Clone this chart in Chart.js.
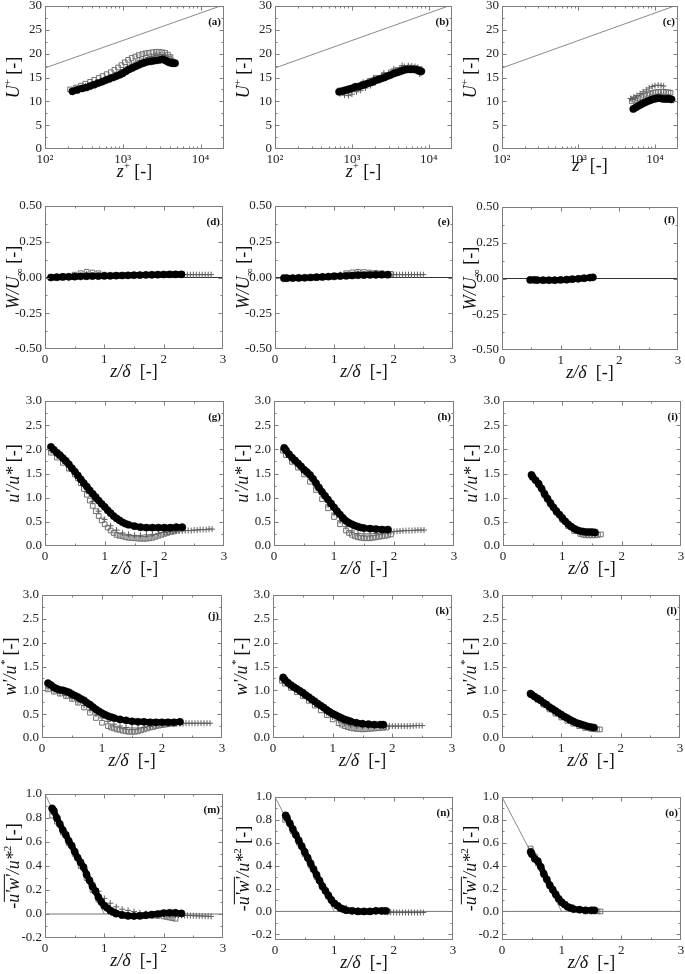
<!DOCTYPE html>
<html><head><meta charset="utf-8">
<script src="https://cdn.jsdelivr.net/npm/chart.js@4.4.1/dist/chart.umd.min.js"></script>
<style>
html,body{margin:0;padding:0;background:#fff;}
body{width:685px;height:974px;position:relative;overflow:hidden;}
canvas{position:absolute;}
.fp{position:absolute;left:-999px;top:0;font-family:"Liberation Serif";}
</style></head><body>
<div class="fp">0.5 <i>z/δ u'w'</i> <b>(a)</b></div>
<script>
// ---------- tick values / labels ----------
const uPlusTicks = [0,5,10,15,20,25,30];
const uPlusTickLabels = ['0','5','10','15','20','25','30'];
const zPlusTicks = [100,1000,10000];
const zPlusTickLabels = ['10²','10³','10⁴'];
const wMeanTicks = [-0.5,-0.25,0,0.25,0.5];
const wMeanTickLabels = ['-0.50','-0.25','0.00','0.25','0.50'];
const rmsTicks = [0,0.5,1,1.5,2,2.5,3];
const rmsTickLabels = ['0.0','0.5','1.0','1.5','2.0','2.5','3.0'];
const stressTicks = [-0.2,0,0.2,0.4,0.6,0.8,1.0];
const stressTickLabels = ['-0.2','0.0','0.2','0.4','0.6','0.8','1.0'];
const zdTicks = [0,1,2,3];
const zdTickLabels = ['0','1','2','3'];

// ---------- reference lines ----------
const lawX = [100, 18000], lawY = [17.0, 30.0];
const zeroX = [0, 3], zeroY = [0, 0];
const stressLineX = [0, 1], stressLineY = [1, 0];

// ---------- (a) ----------
const aCircX = [225,260,300,340,380,430,480,540,600,670,750,830,920,1000,1100,1200,1320,1450,1600,1750,1900,2100,2300,2500,2750,3000,3250,3500,3700,3900,4100,4300,4500,4700];
const aCircY = [12.1,12.4,12.7,12.9,13.2,13.5,13.8,14.1,14.4,14.7,15.0,15.3,15.6,15.9,16.3,16.7,17.0,17.3,17.6,17.9,18.1,18.3,18.4,18.5,18.6,18.7,18.8,18.6,18.4,18.2,18.1,18.0,18.0,18.0];
const aSqX = [210,250,290,330,380,430,490,550,620,700,780,870,960,1060,1170,1300,1450,1600,1780,1960,2150,2400,2650,2900,3200,3500,3800,4100];
const aSqY = [12.5,12.9,13.3,13.7,14.1,14.5,14.9,15.3,15.7,16.1,16.6,17.1,17.6,18.2,18.7,19.1,19.4,19.7,19.9,20.1,20.2,20.3,20.4,20.4,20.3,20.2,19.8,19.3];
const aPlX = [240,280,330,390,450,520,600,690,790,900,1020,1150,1300,1470,1650,1850,2100,2350,2650,3000,3400,3800,4200];
const aPlY = [12.5,12.8,13.2,13.6,14.0,14.3,14.7,15.1,15.5,16.0,16.6,17.2,17.8,18.2,18.6,18.9,19.2,19.4,19.6,19.7,19.6,19.3,19.0];
// ---------- (b) ----------
const bCircX = [680,740,800,870,950,1030,1120,1220,1330,1450,1580,1720,1880,2050,2230,2430,2650,2900,3150,3450,3750,4100,4450,4850,5300,5800,6300,6900,7500,8000];
const bCircY = [12.0,12.1,12.3,12.4,12.6,12.8,13.0,13.1,13.3,13.5,13.7,13.9,14.1,14.4,14.6,14.8,15.0,15.3,15.5,15.8,16.0,16.2,16.4,16.6,16.7,16.7,16.7,16.6,16.4,16.3];
const bSqX = [700,900,1100,1400,1700,2100,2600,3200,3900,4700,5600,6600,7600];
const bSqY = [12.3,12.7,13.2,13.7,14.3,14.9,15.5,16.1,16.6,17.0,17.1,17.0,16.8];
const bPlX = [700,800,900,1000,1150,1300,1500,1750,2000,2300,2700,3100,3600,4200,4800,5400,6000,6600,7200,7600,7900,1100,1400,1900,2600,3500,4500];
const bPlY = [11.6,11.3,11.2,11.5,12.0,12.3,12.8,13.3,13.9,14.4,15.0,15.5,16.1,16.8,17.3,17.5,17.4,17.3,17.1,15.7,15.9,13.3,14.0,14.9,15.9,16.8,17.5];
// ---------- (c) ----------
const cCircX = [5200,5600,6000,6500,7000,7500,8000,8600,9200,9800,10500,11200,12000,12800,13700,14600,15500,16500];
const cCircY = [8.4,8.7,9.0,9.3,9.6,9.8,10.0,10.2,10.4,10.5,10.6,10.7,10.6,10.5,10.5,10.5,10.5,10.4];
const cSqX = [5000,5500,6000,6600,7200,7900,8600,9400,10200,11000,12000,13000,14000,15000,16000];
const cSqY = [10.0,10.3,10.6,10.9,11.2,11.4,11.6,11.8,11.9,12.0,12.0,12.0,11.9,11.9,11.8];
const cPlX = [4800,5300,5800,6400,7000,7700,8400,9200,10000,11000,12000,13000,5000,5600];
const cPlY = [10.6,10.9,11.2,11.6,12.0,12.4,12.8,13.1,13.3,13.4,13.3,13.2,10.4,10.7];
// ---------- (d) ----------
const dCircX = [0.10,0.20,0.30,0.40,0.50,0.60,0.70,0.80,0.90,1.00,1.10,1.20,1.30,1.40,1.50,1.60,1.70,1.80,1.90,2.00,2.10,2.20,2.30];
const dCircY = [0.000,0.002,0.004,0.005,0.006,0.008,0.009,0.010,0.010,0.011,0.012,0.013,0.014,0.015,0.016,0.017,0.018,0.019,0.020,0.021,0.022,0.022,0.022];
const dSqX = [0.10,0.30,0.50,0.60,0.70,0.80,0.90,1.00,1.20,1.40,1.60,1.80,2.00,2.20];
const dSqY = [0.005,0.010,0.020,0.030,0.040,0.035,0.030,0.020,0.015,0.015,0.017,0.020,0.022,0.022];
const dPlX = [0.10,0.40,0.70,1.00,1.30,1.60,1.90,2.10,2.30,2.35,2.40,2.45,2.50,2.55,2.60,2.65,2.70,2.75,2.80];
const dPlY = [0.000,0.008,0.025,0.015,0.015,0.018,0.020,0.020,0.020,0.020,0.020,0.020,0.020,0.020,0.020,0.020,0.020,0.020,0.020];
// ---------- (e) ----------
const eCircX = [0.15,0.20,0.30,0.40,0.50,0.60,0.70,0.80,0.90,1.00,1.10,1.20,1.30,1.40,1.50,1.60,1.70,1.80,1.90];
const eCircY = [-0.005,-0.005,-0.004,-0.003,-0.002,0.000,0.002,0.004,0.006,0.008,0.010,0.012,0.014,0.016,0.017,0.018,0.019,0.020,0.020];
const eSqX = [0.15,0.40,0.70,1.00,1.20,1.30,1.40,1.50,1.60,1.70,1.80,1.95];
const eSqY = [0.000,0.000,0.005,0.015,0.030,0.036,0.040,0.038,0.035,0.032,0.030,0.025];
const ePlX = [0.20,0.50,0.80,1.10,1.40,1.70,1.90,1.95,2.00,2.05,2.10,2.15,2.20,2.25,2.30,2.35,2.40,2.45,2.50];
const ePlY = [0.000,0.000,0.008,0.020,0.030,0.025,0.020,0.020,0.020,0.020,0.020,0.020,0.020,0.020,0.020,0.020,0.020,0.020,0.020];
// ---------- (f) ----------
const fCircX = [0.48,0.55,0.60,0.70,0.80,0.90,1.00,1.10,1.20,1.30,1.40,1.50,1.55];
const fCircY = [-0.010,-0.010,-0.011,-0.012,-0.012,-0.012,-0.010,-0.008,-0.005,-0.002,0.002,0.006,0.008];
const fSqX = [0.50,0.80,1.10,1.40,1.55];
const fSqY = [-0.008,-0.010,-0.006,0.002,0.008];
const fPlX = [0.50,0.90,1.30,1.50];
const fPlY = [-0.010,-0.010,-0.002,0.006];
// ---------- (g) ----------
const gCircX = [0.10,0.15,0.20,0.25,0.30,0.35,0.40,0.45,0.50,0.55,0.60,0.65,0.70,0.75,0.80,0.85,0.90,0.95,1.00,1.05,1.10,1.15,1.20,1.25,1.30,1.35,1.40,1.50,1.60,1.70,1.80,1.90,2.00,2.10,2.20,2.30];
const gCircY = [2.05,1.99,1.93,1.88,1.82,1.76,1.69,1.61,1.54,1.46,1.38,1.30,1.23,1.15,1.08,1.01,0.94,0.87,0.81,0.74,0.68,0.62,0.57,0.53,0.49,0.46,0.44,0.41,0.39,0.38,0.38,0.38,0.38,0.38,0.39,0.39];
const gSqX = [0.10,0.20,0.30,0.40,0.50,0.55,0.60,0.65,0.70,0.75,0.80,0.85,0.90,0.95,1.00,1.05,1.10,1.15,1.20,1.25,1.30,1.35,1.40,1.45,1.50,1.55,1.60,1.65,1.70,1.75,1.80,1.85,1.90,1.95,2.00,2.05,2.10,2.15,2.20];
const gSqY = [1.93,1.83,1.72,1.60,1.48,1.40,1.30,1.18,1.06,0.94,0.83,0.72,0.62,0.53,0.45,0.38,0.32,0.27,0.23,0.21,0.20,0.18,0.17,0.165,0.16,0.155,0.15,0.15,0.15,0.16,0.17,0.19,0.21,0.23,0.25,0.27,0.29,0.30,0.32];
const gPlX = [0.10,0.20,0.30,0.40,0.50,0.60,0.70,0.80,0.90,1.00,1.10,1.20,1.30,1.40,1.50,1.60,1.70,1.80,1.90,2.00,2.05,2.10,2.15,2.20,2.25,2.30,2.35,2.40,2.45,2.50,2.55,2.60,2.65,2.70,2.75,2.80];
const gPlY = [1.97,1.87,1.76,1.64,1.50,1.33,1.13,0.92,0.72,0.55,0.42,0.33,0.27,0.24,0.22,0.22,0.23,0.24,0.26,0.28,0.29,0.30,0.30,0.31,0.31,0.31,0.32,0.32,0.32,0.33,0.33,0.34,0.34,0.34,0.35,0.35];
// ---------- (h) ----------
const hCircX = [0.17,0.20,0.25,0.30,0.35,0.40,0.45,0.50,0.55,0.60,0.65,0.70,0.75,0.80,0.85,0.90,0.95,1.00,1.05,1.10,1.15,1.20,1.25,1.30,1.35,1.40,1.45,1.50,1.60,1.70,1.80,1.90];
const hCircY = [2.03,1.98,1.90,1.83,1.77,1.71,1.65,1.58,1.53,1.47,1.39,1.30,1.21,1.12,1.04,0.96,0.88,0.80,0.72,0.65,0.58,0.52,0.48,0.45,0.42,0.40,0.38,0.37,0.36,0.35,0.34,0.34];
const hSqX = [0.15,0.20,0.30,0.40,0.50,0.60,0.70,0.80,0.90,1.00,1.10,1.20,1.25,1.30,1.35,1.40,1.45,1.50,1.55,1.60,1.65,1.70,1.75,1.80,1.85,1.90,1.95];
const hSqY = [1.97,1.88,1.74,1.62,1.48,1.33,1.16,0.97,0.78,0.60,0.45,0.32,0.27,0.23,0.20,0.18,0.17,0.16,0.16,0.16,0.17,0.18,0.19,0.20,0.21,0.22,0.24];
const hPlX = [0.15,0.30,0.50,0.70,0.90,1.00,1.10,1.20,1.30,1.40,1.50,1.60,1.70,1.80,1.90,1.95,2.00,2.05,2.10,2.15,2.20,2.25,2.30,2.35,2.40,2.45,2.50];
const hPlY = [2.00,1.78,1.52,1.20,0.85,0.68,0.52,0.40,0.31,0.26,0.25,0.25,0.26,0.27,0.29,0.295,0.30,0.305,0.31,0.315,0.32,0.32,0.32,0.325,0.33,0.33,0.33];
// ---------- (i) ----------
const iCircX = [0.48,0.50,0.55,0.60,0.65,0.70,0.75,0.80,0.85,0.90,0.95,1.00,1.05,1.10,1.15,1.20,1.25,1.30,1.35,1.40,1.45,1.50,1.55];
const iCircY = [1.47,1.43,1.36,1.29,1.19,1.08,0.98,0.89,0.80,0.72,0.65,0.58,0.51,0.45,0.40,0.36,0.33,0.31,0.30,0.29,0.29,0.29,0.28];
const iSqX = [0.50,0.60,0.70,0.80,0.90,1.00,1.10,1.20,1.30,1.35,1.40,1.45,1.50,1.55,1.60,1.65];
const iSqY = [1.42,1.26,1.05,0.86,0.69,0.54,0.41,0.31,0.25,0.23,0.22,0.22,0.22,0.22,0.23,0.24];
const iPlX = [0.50,0.60,0.70,0.80,0.90,1.00,1.10,1.20,1.30,1.40,1.50];
const iPlY = [1.45,1.27,1.07,0.87,0.70,0.55,0.42,0.33,0.27,0.25,0.25];
// ---------- (j) ----------
const jCircX = [0.10,0.15,0.20,0.25,0.30,0.35,0.40,0.45,0.50,0.55,0.60,0.65,0.70,0.75,0.80,0.85,0.90,0.95,1.00,1.05,1.10,1.15,1.20,1.30,1.40,1.50,1.60,1.70,1.80,1.90,2.00,2.10,2.20,2.30];
const jCircY = [1.15,1.11,1.06,1.03,1.01,1.00,0.98,0.96,0.92,0.89,0.86,0.82,0.79,0.74,0.70,0.65,0.60,0.56,0.52,0.49,0.46,0.44,0.42,0.39,0.37,0.35,0.34,0.34,0.33,0.33,0.33,0.33,0.33,0.34];
const jSqX = [0.10,0.20,0.30,0.40,0.50,0.60,0.70,0.80,0.90,1.00,1.10,1.15,1.20,1.25,1.30,1.35,1.40,1.45,1.50,1.55,1.60,1.65,1.70,1.75,1.80,1.85,1.90,1.95,2.00,2.05,2.10,2.15,2.20];
const jSqY = [1.02,0.97,0.93,0.88,0.82,0.74,0.64,0.53,0.42,0.32,0.25,0.22,0.20,0.18,0.17,0.15,0.14,0.13,0.13,0.13,0.14,0.16,0.18,0.20,0.22,0.23,0.25,0.26,0.27,0.28,0.29,0.30,0.30];
const jPlX = [0.10,0.20,0.30,0.40,0.50,0.60,0.70,0.80,0.90,1.00,1.10,1.20,1.30,1.40,1.50,1.60,1.70,1.80,1.90,2.00,2.10,2.20,2.25,2.30,2.35,2.40,2.45,2.50,2.55,2.60,2.65,2.70,2.75,2.80];
const jPlY = [1.05,0.99,0.94,0.89,0.83,0.76,0.68,0.59,0.50,0.42,0.35,0.29,0.25,0.22,0.21,0.21,0.22,0.24,0.26,0.28,0.29,0.30,0.30,0.30,0.30,0.31,0.31,0.31,0.31,0.31,0.31,0.31,0.31,0.31];
// ---------- (k) ----------
const kCircX = [0.17,0.20,0.25,0.30,0.35,0.40,0.45,0.50,0.55,0.60,0.65,0.70,0.75,0.80,0.85,0.90,0.95,1.00,1.05,1.10,1.15,1.20,1.25,1.30,1.40,1.50,1.60,1.70,1.80,1.85];
const kCircY = [1.27,1.22,1.16,1.11,1.07,1.03,0.99,0.95,0.90,0.86,0.81,0.77,0.72,0.68,0.64,0.59,0.55,0.51,0.48,0.45,0.42,0.39,0.37,0.35,0.32,0.30,0.29,0.28,0.28,0.28];
const kSqX = [0.15,0.20,0.30,0.40,0.50,0.60,0.70,0.80,0.90,1.00,1.10,1.15,1.20,1.25,1.30,1.35,1.40,1.45,1.50,1.55,1.60,1.65,1.70,1.75,1.80,1.85,1.90];
const kSqY = [1.20,1.14,1.05,0.96,0.88,0.78,0.68,0.58,0.48,0.39,0.31,0.28,0.25,0.23,0.21,0.20,0.19,0.185,0.18,0.185,0.19,0.195,0.20,0.205,0.21,0.215,0.22];
const kPlX = [0.15,0.30,0.50,0.70,0.90,1.00,1.10,1.20,1.30,1.40,1.50,1.60,1.70,1.80,1.85,1.90,1.95,2.00,2.05,2.10,2.15,2.20,2.25,2.30,2.35,2.40,2.45,2.50];
const kPlY = [1.22,1.07,0.90,0.71,0.52,0.44,0.37,0.31,0.27,0.25,0.24,0.24,0.24,0.245,0.25,0.25,0.25,0.25,0.25,0.25,0.25,0.25,0.25,0.25,0.255,0.26,0.26,0.26];
// ---------- (l) ----------
const lCircX = [0.48,0.50,0.55,0.60,0.65,0.70,0.75,0.80,0.85,0.90,0.95,1.00,1.05,1.10,1.15,1.20,1.25,1.30,1.35,1.40,1.45,1.50,1.55];
const lCircY = [0.93,0.91,0.87,0.83,0.79,0.74,0.70,0.65,0.61,0.57,0.53,0.49,0.45,0.42,0.38,0.35,0.32,0.30,0.28,0.26,0.24,0.23,0.22];
const lSqX = [0.50,0.60,0.70,0.80,0.90,1.00,1.10,1.20,1.30,1.40,1.50,1.55,1.60,1.65];
const lSqY = [0.90,0.80,0.70,0.60,0.51,0.43,0.36,0.30,0.25,0.21,0.19,0.185,0.18,0.18];
const lPlX = [0.50,0.60,0.70,0.80,0.90,1.00,1.10,1.20,1.30,1.40,1.50];
const lPlY = [0.92,0.81,0.71,0.62,0.53,0.45,0.38,0.32,0.27,0.23,0.21];
// ---------- (m) ----------
const mCircX = [0.12,0.15,0.20,0.25,0.30,0.35,0.40,0.45,0.50,0.55,0.60,0.65,0.70,0.75,0.80,0.85,0.90,0.95,1.00,1.05,1.10,1.15,1.20,1.30,1.40,1.50,1.60,1.70,1.80,1.90,2.00,2.10,2.20,2.30];
const mCircY = [0.88,0.86,0.80,0.75,0.70,0.66,0.61,0.57,0.52,0.47,0.43,0.39,0.33,0.28,0.23,0.19,0.14,0.10,0.07,0.05,0.03,0.015,0.005,-0.008,-0.015,-0.017,-0.015,-0.010,-0.005,0.000,0.008,0.010,0.010,0.005];
const mSqX = [0.12,0.20,0.30,0.40,0.50,0.60,0.70,0.80,0.90,1.00,1.10,1.20,1.30,1.40,1.50,1.60,1.70,1.80,1.90,2.00,2.05,2.10,2.15,2.20];
const mSqY = [0.82,0.77,0.68,0.59,0.50,0.40,0.30,0.20,0.12,0.06,0.02,-0.005,-0.015,-0.020,-0.020,-0.020,-0.018,-0.015,-0.017,-0.020,-0.025,-0.030,-0.035,-0.040];
const mPlX = [0.12,0.20,0.30,0.40,0.50,0.60,0.70,0.80,0.90,1.00,1.10,1.20,1.30,1.40,1.50,1.60,1.70,1.80,1.85,1.90,1.95,2.00,2.05,2.10,2.15,2.20,2.25,2.30,2.35,2.40,2.45,2.50,2.55,2.60,2.65,2.70,2.75,2.80];
const mPlY = [0.85,0.79,0.70,0.61,0.52,0.43,0.34,0.26,0.19,0.13,0.09,0.06,0.04,0.03,0.02,0.01,0.005,0.000,0.000,-0.003,-0.004,-0.005,-0.006,-0.008,-0.009,-0.010,-0.010,-0.011,-0.012,-0.012,-0.013,-0.014,-0.015,-0.016,-0.017,-0.018,-0.019,-0.020];
// ---------- (n) ----------
const nCircX = [0.18,0.20,0.25,0.30,0.35,0.40,0.45,0.50,0.55,0.60,0.65,0.70,0.75,0.80,0.85,0.90,0.95,1.00,1.05,1.10,1.15,1.20,1.30,1.40,1.50,1.60,1.70,1.80,1.87];
const nCircY = [0.84,0.82,0.77,0.72,0.67,0.62,0.57,0.52,0.47,0.42,0.37,0.32,0.27,0.22,0.18,0.14,0.10,0.07,0.05,0.03,0.02,0.01,0.005,0.000,0.000,0.000,0.005,0.005,0.005];
const nSqX = [0.17,0.30,0.40,0.50,0.60,0.70,0.80,0.90,1.00,1.10,1.20,1.40,1.60,1.80,1.90];
const nSqY = [0.80,0.70,0.60,0.50,0.40,0.30,0.21,0.13,0.07,0.03,0.01,0.00,0.00,0.00,0.00];
const nPlX = [0.17,0.30,0.50,0.70,0.90,1.00,1.10,1.20,1.40,1.60,1.80,1.85,1.90,1.95,2.00,2.05,2.10,2.15,2.20,2.25,2.30,2.35,2.40,2.45,2.50];
const nPlY = [0.82,0.71,0.51,0.31,0.15,0.09,0.05,0.03,0.01,0.00,-0.005,-0.006,-0.007,-0.008,-0.009,-0.010,-0.010,-0.010,-0.010,-0.010,-0.010,-0.010,-0.010,-0.010,-0.010];
// ---------- (o) ----------
const oCircX = [0.48,0.50,0.55,0.60,0.65,0.70,0.75,0.80,0.85,0.90,0.95,1.00,1.05,1.10,1.15,1.20,1.30,1.40,1.50,1.55];
const oCircY = [0.52,0.50,0.46,0.44,0.39,0.33,0.28,0.23,0.19,0.15,0.11,0.08,0.06,0.04,0.03,0.02,0.015,0.01,0.01,0.01];
const oSqX = [0.48,0.55,0.60,0.70,0.80,0.90,1.00,1.10,1.20,1.30,1.40,1.50,1.60,1.65];
const oSqY = [0.55,0.48,0.42,0.32,0.22,0.14,0.08,0.04,0.02,0.01,0.00,0.00,0.00,0.00];
const oPlX = [0.50,0.60,0.70,0.80,0.90,1.00,1.10,1.20,1.30,1.40,1.50];
const oPlY = [0.53,0.43,0.34,0.24,0.16,0.10,0.06,0.035,0.02,0.01,0.005];

// ---------- axis titles (rich text segments) ----------
const T_Uplus = [{t:'U',i:1},{t:'+',sup:1},{t:' [-]'}];
const T_zplus = [{t:'z',i:1},{t:'+',sup:1},{t:' [-]'}];
const T_zd = [{t:'z/δ',i:1},{t:'  [-]'}];
const T_W = [{t:'W/U',i:1},{t:'∞',sub:1},{t:' [-]'}];
const T_u = [{t:"u'/u*",i:1},{t:' [-]'}];
const T_w = [{t:"w'/u",i:1},{t:'*',sup:1,i:1},{t:' [-]'}];
const T_s = [{t:'-'},{t:"u'w'",i:1,over:1},{t:'/u*',i:1},{t:'2',sup:1},{t:' [-]'}];

const FONT = '"Liberation Serif","Times New Roman",Times,serif';

function zip(xs, ys){ const n=Math.min(xs.length, ys.length); const r=[]; for(let k=0;k<n;k++) r.push({x:xs[k], y:ys[k]}); return r; }

function drawRich(ctx, segs, cx, cy, size, rotate){
  ctx.save();
  ctx.translate(cx, cy);
  if (rotate) ctx.rotate(-Math.PI/2);
  const fontOf = s => (s.i?'italic ':'') + ((s.sup||s.sub)? Math.round(size*0.62) : size) + 'px ' + FONT;
  const ws = segs.map(s => { ctx.font = fontOf(s); return ctx.measureText(s.t).width; });
  const total = ws.reduce((a,b)=>a+b,0);
  let x = -total/2;
  const base = size*0.32;
  ctx.textAlign='left'; ctx.textBaseline='alphabetic'; ctx.fillStyle='#111'; ctx.strokeStyle='#111'; ctx.lineWidth=1;
  segs.forEach((s,k) => {
    ctx.font = fontOf(s);
    const y = base + (s.sup ? -size*0.42 : s.sub ? size*0.22 : 0);
    ctx.fillText(s.t, x, y);
    if (s.over){ ctx.beginPath(); ctx.moveTo(x+1, base-size*0.8); ctx.lineTo(x+ws[k], base-size*0.8); ctx.stroke(); }
    x += ws[k];
  });
  ctx.restore();
}

const decoPlugin = {
  id: 'deco',
  afterDatasetsDraw(chart, args, o){
    const ctx = chart.ctx, a = chart.chartArea, xs = chart.scales.x, ys = chart.scales.y;
    ctx.save();
    const L = Math.round(a.left)+0.5, R = Math.round(a.right)-0.5, T = Math.round(a.top)+0.5, B = Math.round(a.bottom)-0.5;
    ctx.strokeStyle = '#7d7d7d'; ctx.lineWidth = 1;
    ctx.strokeRect(L, T, R-L, B-T);
    ctx.beginPath();
    const tx = (vals, len) => vals.forEach(v => { const p = Math.round(xs.getPixelForValue(v))+0.5; if (p<=L+1||p>=R-1) return; ctx.moveTo(p,B); ctx.lineTo(p,B-len); ctx.moveTo(p,T); ctx.lineTo(p,T+len); });
    const ty = (vals, len) => vals.forEach(v => { const p = Math.round(ys.getPixelForValue(v))+0.5; if (p<=T+1||p>=B-1) return; ctx.moveTo(L,p); ctx.lineTo(L+len,p); ctx.moveTo(R,p); ctx.lineTo(R-len,p); });
    tx(o.xMajor, 4); tx(o.xMinor, 2); ty(o.yMajor, 4); ty(o.yMinor, 2);
    ctx.stroke();
    ctx.fillStyle = '#111'; ctx.font = 'bold 11px ' + FONT; ctx.textAlign='right'; ctx.textBaseline='middle';
    ctx.fillText(o.label, a.right-3, a.top + 16 + (o.lblDy||0));
    drawRich(ctx, o.yTitle, a.left-32, (a.top+a.bottom)/2, 18, true);
    drawRich(ctx, o.xTitle, (a.left+a.right)/2, a.bottom+22+(o.xtDy||0), 18, false);
    ctx.restore();
  }
};

const KIND = {
  U:  {ymin:0, ymax:30, yt:uPlusTicks, ytl:uPlusTickLabels, yTitle:T_Uplus, xlog:true, refs:[[lawX,lawY]]},
  W:  {ymin:-0.5, ymax:0.5, yt:wMeanTicks, ytl:wMeanTickLabels, yTitle:T_W, refs:[[zeroX,zeroY]], refColor:'#333'},
  RU: {ymin:0, ymax:3, yt:rmsTicks, ytl:rmsTickLabels, yTitle:T_u, refs:[]},
  RW: {ymin:0, ymax:3, yt:rmsTicks, ytl:rmsTickLabels, yTitle:T_w, refs:[]},
  S:  {ymin:-0.2, ymax:1.0, yt:stressTicks, ytl:stressTickLabels, yTitle:T_s, refs:[[zeroX,zeroY],[stressLineX,stressLineY]], refColor:'#777'}
};

const panels = [
  {label:'(a)', L:45,  T:6,   W:179, H:143, kind:'U', c:[aCircX,aCircY], s:[aSqX,aSqY], p:[aPlX,aPlY]},
  {label:'(b)', L:275, T:6,   W:177, H:143, kind:'U', c:[bCircX,bCircY], s:[bSqX,bSqY], p:[bPlX,bPlY]},
  {label:'(c)', L:502, T:6,   W:176, H:143, kind:'U', c:[cCircX,cCircY], s:[cSqX,cSqY], p:[cPlX,cPlY], xtDy:-6},
  {label:'(d)', L:45,  T:206, W:178, H:143, kind:'W', c:[dCircX,dCircY], s:[dSqX,dSqY], p:[dPlX,dPlY]},
  {label:'(e)', L:275, T:206, W:178, H:143, kind:'W', c:[eCircX,eCircY], s:[eSqX,eSqY], p:[ePlX,ePlY]},
  {label:'(f)', L:502, T:207, W:176, H:143, kind:'W', c:[fCircX,fCircY], s:[fSqX,fSqY], p:[fPlX,fPlY], lblDy:-3},
  {label:'(g)', L:45,  T:401, W:179, H:145, kind:'RU', c:[gCircX,gCircY], s:[gSqX,gSqY], p:[gPlX,gPlY]},
  {label:'(h)', L:274, T:401, W:180, H:145, kind:'RU', c:[hCircX,hCircY], s:[hSqX,hSqY], p:[hPlX,hPlY]},
  {label:'(i)', L:503, T:401, W:178, H:145, kind:'RU', c:[iCircX,iCircY], s:[iSqX,iSqY], p:[iPlX,iPlY]},
  {label:'(j)', L:42,  T:595, W:180, H:143, kind:'RW', c:[jCircX,jCircY], s:[jSqX,jSqY], p:[jPlX,jPlY], lblDy:5},
  {label:'(k)', L:273, T:595, W:179, H:143, kind:'RW', c:[kCircX,kCircY], s:[kSqX,kSqY], p:[kPlX,kPlY]},
  {label:'(l)', L:502, T:595, W:178, H:143, kind:'RW', c:[lCircX,lCircY], s:[lSqX,lSqY], p:[lPlX,lPlY]},
  {label:'(m)', L:45,  T:794, W:178, H:144, kind:'S', c:[mCircX,mCircY], s:[mSqX,mSqY], p:[mPlX,mPlY]},
  {label:'(n)', L:275, T:797, W:178, H:143, kind:'S', ymin:-0.25, c:[nCircX,nCircY], s:[nSqX,nSqY], p:[nPlX,nPlY]},
  {label:'(o)', L:502, T:797, W:179, H:143, kind:'S', ymin:-0.25, c:[oCircX,oCircY], s:[oSqX,oSqY], p:[oPlX,oPlY]}
];

const PADL = 48, PADT = 12, PADR = 10, PADB = 38;

function mids(arr){ const r=[]; for(let k=0;k<arr.length-1;k++) r.push((arr[k]+arr[k+1])/2); return r; }

function build(){
panels.forEach(pn => {
  const K = KIND[pn.kind];
  const cw = pn.W + PADL + PADR, ch = pn.H + PADT + PADB;
  const cv = document.createElement('canvas');
  cv.width = cw; cv.height = ch;
  cv.style.left = (pn.L - PADL) + 'px'; cv.style.top = (pn.T - PADT) + 'px';
  cv.style.width = cw + 'px'; cv.style.height = ch + 'px';
  document.body.appendChild(cv);

  const xT = K.xlog ? zPlusTicks : zdTicks;
  const xTL = K.xlog ? zPlusTickLabels : zdTickLabels;
  const yMin = pn.ymin !== undefined ? pn.ymin : K.ymin;

  const datasets = [
    {data: zip(pn.c[0], pn.c[1]), showLine:true, borderColor:'#000', borderWidth:6, borderCapStyle:'round', borderJoinStyle:'round', tension:0,
     pointStyle:'circle', pointRadius:3.6, pointBackgroundColor:'#000', pointBorderColor:'#000', pointBorderWidth:0.5, backgroundColor:'#000'},
    {data: zip(pn.p[0], pn.p[1]), showLine:false, pointStyle:'cross', pointRadius:3, pointBorderColor:'#5e5e5e', pointBorderWidth:1, pointBackgroundColor:'rgba(0,0,0,0)', borderColor:'#5e5e5e', backgroundColor:'rgba(0,0,0,0)'},
    {data: zip(pn.s[0], pn.s[1]), showLine:false, pointStyle:'rect', pointRadius:3.3, pointBorderColor:'#707070', pointBorderWidth:1, pointBackgroundColor:'rgba(255,255,255,0)', borderColor:'#707070', backgroundColor:'rgba(255,255,255,0)'}
  ];
  K.refs.forEach((r, k) => {
    const col = (pn.kind==='S' && k===1) ? '#8a8a8a' : (K.refColor || '#8a8a8a');
    datasets.push({data: zip(r[0], r[1]), showLine:true, borderColor:col, borderWidth:1, pointRadius:0, backgroundColor:col, tension:0});
  });

  const xMinor = K.xlog ? [200,300,400,500,600,700,800,900,2000,3000,4000,5000,6000,7000,8000,9000] : mids(xT);
  const yMinor = mids(K.yt);

  new Chart(cv, {
    type: 'scatter',
    data: {datasets},
    options: {
      responsive:false, animation:false, devicePixelRatio:1, events:[],
      layout: {padding:{left:0, top:PADT, right:PADR, bottom:0}},
      plugins: {legend:{display:false}, tooltip:{enabled:false},
        deco: {label:pn.label, yTitle:K.yTitle, xTitle: K.xlog ? T_zplus : T_zd, xMajor:xT, xMinor:xMinor, yMajor:K.yt, yMinor:yMinor, xtDy:pn.xtDy, lblDy:pn.lblDy}},
      scales: {
        x: {
          type: K.xlog ? 'logarithmic' : 'linear',
          min: K.xlog ? 100 : 0, max: K.xlog ? 20000 : 3,
          grid:{display:false, drawTicks:false}, border:{display:false},
          afterBuildTicks: s => { s.ticks = xT.map(v => ({value:v})); },
          afterFit: s => { s.height = PADB; },
          ticks: {autoSkip:false, maxRotation:0, padding:3, color:'#222', font:{family:FONT, size:13},
                  callback: (v, idx) => xTL[idx]}
        },
        y: {
          type:'linear', min:yMin, max:K.ymax,
          grid:{display:false, drawTicks:false}, border:{display:false},
          afterBuildTicks: s => { s.ticks = K.yt.map(v => ({value:v})); },
          afterFit: s => { s.width = PADL; },
          ticks: {autoSkip:false, padding:3, color:'#222', font:{family:FONT, size:13},
                  callback: (v, idx) => K.ytl[idx]}
        }
      }
    },
    plugins: [decoPlugin]
  });
});
}

const fontLoads = (document.fonts && document.fonts.load) ? Promise.all([
  document.fonts.load('13px "Liberation Serif"'),
  document.fonts.load('italic 18px "Liberation Serif"'),
  document.fonts.load('bold 11px "Liberation Serif"')
]).catch(()=>{}) : Promise.resolve();
let built = false;
const go = () => { if (!built) { built = true; build(); } };
fontLoads.then(go);
setTimeout(go, 1500);
</script>
</body></html>
